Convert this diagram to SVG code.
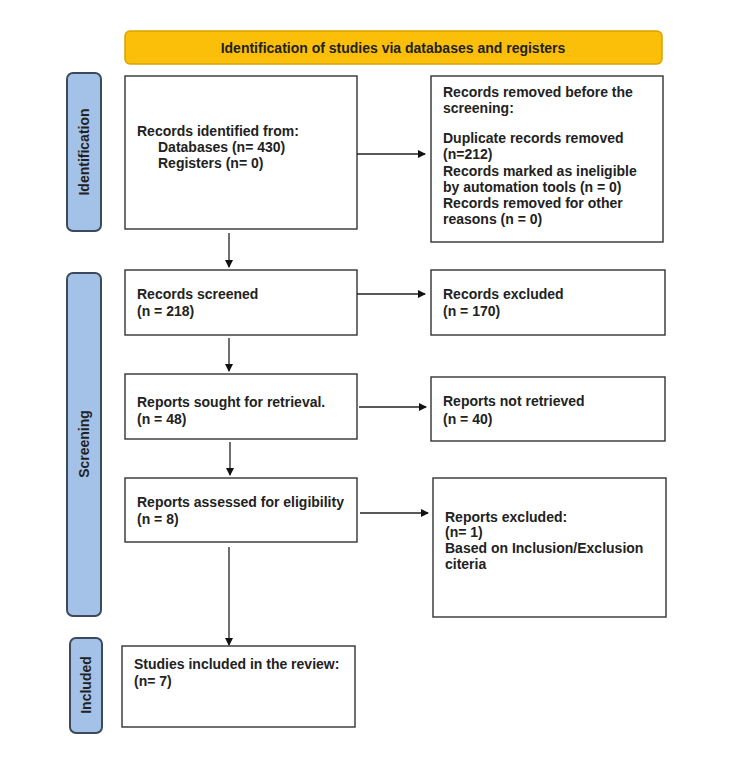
<svg xmlns="http://www.w3.org/2000/svg" width="750" height="768" viewBox="0 0 750 768">
<defs>
<marker id="ah" markerWidth="8" markerHeight="8" refX="7" refY="4" orient="auto" markerUnits="userSpaceOnUse">
<path d="M0,0 L8,4 L0,8 Z" fill="#111"/>
</marker>
<style>
.box{fill:#fff;stroke:#333;stroke-width:1.4}
.side{fill:#a4c2e8;stroke:#3c4a5c;stroke-width:2}
.t{font-family:"Liberation Sans",Arial,sans-serif;font-weight:bold;font-size:14px;fill:#222}
.st{font-family:"Liberation Sans",Arial,sans-serif;font-weight:bold;font-size:14px;fill:#222}
.c{stroke:#222;stroke-width:1.3;fill:none}
</style>
</defs>
<rect width="750" height="768" fill="#fff"/>
<g id="banner">
<rect x="125" y="31" width="537" height="33" rx="5" fill="#fbbf0a" stroke="#d9a300" stroke-width="1.5"/>
<text class="st" x="393" y="52.5" text-anchor="middle">Identification of studies via databases and registers</text>
</g>
<g id="side-identification">
<rect class="side" x="67" y="73" width="34" height="158" rx="6"/>
<text class="st" transform="translate(89,152) rotate(-90)" text-anchor="middle">Identification</text>
</g>
<g id="side-screening">
<rect class="side" x="67" y="273" width="34" height="343" rx="6"/>
<text class="st" transform="translate(89,444) rotate(-90)" text-anchor="middle">Screening</text>
</g>
<g id="side-included">
<rect class="side" x="70" y="638" width="32" height="95" rx="6"/>
<text class="st" transform="translate(91,685) rotate(-90)" text-anchor="middle">Included</text>
</g>
<g id="records-identified">
<rect class="box" x="125" y="76" width="232" height="153"/>
<text class="t" x="137" y="136">Records identified from:</text>
<text class="t" x="158" y="152">Databases (n= 430)</text>
<text class="t" x="158" y="168">Registers (n= 0)</text>
</g>
<g id="records-removed">
<rect class="box" x="431" y="76" width="232" height="166"/>
<text class="t" x="443" y="97">Records removed before the</text>
<text class="t" x="443" y="113">screening:</text>
<text class="t" x="443" y="143">Duplicate records removed</text>
<text class="t" x="443" y="159">(n=212)</text>
<text class="t" x="443" y="176">Records marked as ineligible</text>
<text class="t" x="443" y="192">by automation tools (n = 0)</text>
<text class="t" x="443" y="208">Records removed for other</text>
<text class="t" x="443" y="224">reasons (n = 0)</text>
</g>
<g id="records-screened">
<rect class="box" x="125" y="270" width="232" height="65"/>
<text class="t" x="137" y="299">Records screened</text>
<text class="t" x="137" y="316">(n = 218)</text>
</g>
<g id="records-excluded">
<rect class="box" x="431" y="270" width="234" height="65"/>
<text class="t" x="443" y="299">Records excluded</text>
<text class="t" x="443" y="316">(n = 170)</text>
</g>
<g id="reports-sought">
<rect class="box" x="125" y="374" width="232" height="65"/>
<text class="t" x="137" y="407">Reports sought for retrieval.</text>
<text class="t" x="137" y="424">(n = 48)</text>
</g>
<g id="reports-not-retrieved">
<rect class="box" x="431" y="377" width="234" height="64"/>
<text class="t" x="443" y="406">Reports not retrieved</text>
<text class="t" x="443" y="424">(n = 40)</text>
</g>
<g id="reports-assessed">
<rect class="box" x="125" y="478" width="232" height="64"/>
<text class="t" x="137" y="507">Reports assessed for eligibility</text>
<text class="t" x="137" y="524">(n = 8)</text>
</g>
<g id="reports-excluded">
<rect class="box" x="433" y="478" width="233" height="139"/>
<text class="t" x="445" y="522">Reports excluded:</text>
<text class="t" x="445" y="537">(n= 1)</text>
<text class="t" x="445" y="553">Based on Inclusion/Exclusion</text>
<text class="t" x="445" y="569">citeria</text>
</g>
<g id="studies-included">
<rect class="box" x="122" y="646" width="233" height="81"/>
<text class="t" x="134" y="669">Studies included in the review:</text>
<text class="t" x="134" y="686">(n= 7)</text>
</g>
<g id="connectors">
<line class="c" x1="357" y1="154" x2="425" y2="154" marker-end="url(#ah)"/>
<line class="c" x1="229" y1="233" x2="229" y2="267" marker-end="url(#ah)"/>
<line class="c" x1="357" y1="294" x2="425" y2="294" marker-end="url(#ah)"/>
<line class="c" x1="229" y1="338" x2="229" y2="371" marker-end="url(#ah)"/>
<line class="c" x1="359" y1="407" x2="426" y2="407" marker-end="url(#ah)"/>
<line class="c" x1="230" y1="442" x2="230" y2="475" marker-end="url(#ah)"/>
<line class="c" x1="360" y1="513" x2="428" y2="513" marker-end="url(#ah)"/>
<line class="c" x1="229" y1="547" x2="229" y2="645" marker-end="url(#ah)"/>
</g>
</svg>
